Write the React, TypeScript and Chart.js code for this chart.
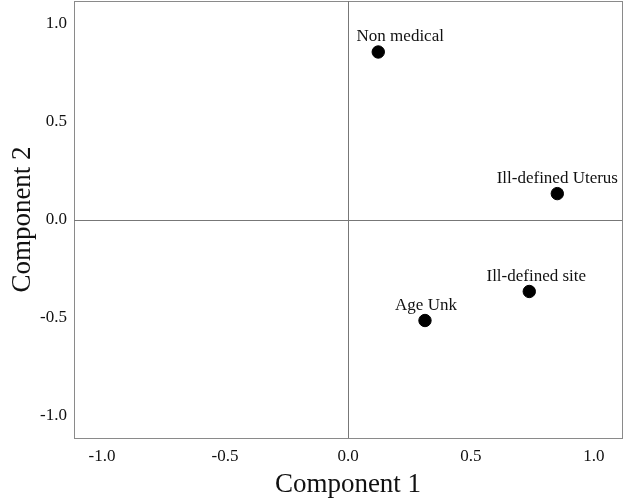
import React, { useEffect, useRef } from "react";
import { Chart, registerables } from "chart.js";

Chart.register(...registerables);

const LABELS = ["Non medical", "Ill-defined Uterus", "Ill-defined site", "Age Unk"];
const COMP1 = [0.123, 0.851, 0.737, 0.313];
const COMP2 = [0.854, 0.132, -0.367, -0.515];
const TICKS = [-1.0, -0.5, 0.0, 0.5, 1.0];
const LABEL_NUDGE = [22, 0, 7, 1];
const AXIS_MIN = -1.114;
const AXIS_MAX = 1.114;
const FONT = "'Liberation Serif', 'Times New Roman', serif";

const framePlugin = {
  id: "frame",
  beforeDatasetsDraw(chart: any) {
    const { ctx, chartArea, scales } = chart;
    const x0 = scales.x.getPixelForValue(0);
    const y0 = scales.y.getPixelForValue(0);
    ctx.save();
    ctx.strokeStyle = "#8a8a8a";
    ctx.lineWidth = 1;
    ctx.strokeRect(
      Math.round(chartArea.left) + 0.5,
      Math.round(chartArea.top) + 0.5,
      Math.round(chartArea.right - chartArea.left),
      Math.round(chartArea.bottom - chartArea.top)
    );
    ctx.strokeStyle = "#777";
    ctx.beginPath();
    ctx.moveTo(Math.round(x0) + 0.5, chartArea.top);
    ctx.lineTo(Math.round(x0) + 0.5, chartArea.bottom);
    ctx.moveTo(chartArea.left, Math.round(y0) + 0.5);
    ctx.lineTo(chartArea.right, Math.round(y0) + 0.5);
    ctx.stroke();
    ctx.restore();
  },
  afterDatasetsDraw(chart: any) {
    const { ctx } = chart;
    const meta = chart.getDatasetMeta(0);
    ctx.save();
    ctx.font = `17px ${FONT}`;
    ctx.fillStyle = "#111";
    ctx.textAlign = "center";
    ctx.textBaseline = "alphabetic";
    meta.data.forEach((pt: any, i: number) => {
      ctx.fillText(LABELS[i], pt.x + LABEL_NUDGE[i], pt.y - 10.5);
    });
    ctx.restore();
  },
};

export default function App() {
  const ref = useRef<HTMLCanvasElement>(null);
  useEffect(() => {
    if (!ref.current) return;
    const chart = new Chart(ref.current, {
      type: "scatter",
      data: {
        datasets: [
          {
            data: COMP1.map((x, i) => ({ x, y: COMP2[i] })),
            backgroundColor: "#000",
            borderColor: "#000",
            pointRadius: 6.2,
            pointHoverRadius: 6.2,
          },
        ],
      },
      options: {
        animation: false,
        responsive: false,
        events: [],
        layout: { autoPadding: false, padding: { left: 0, top: 1, right: 12, bottom: 0 } },
        plugins: { legend: { display: false }, tooltip: { enabled: false } },
        scales: {
          x: {
            type: "linear",
            min: AXIS_MIN,
            max: AXIS_MAX,
            grid: { display: false, drawTicks: false },
            border: { display: false },
            afterBuildTicks: (s: any) => {
              s.ticks = TICKS.map((v) => ({ value: v }));
            },
            afterFit: (s: any) => {
              s.height = 65;
              s.paddingLeft = 0;
              s.paddingRight = 0;
            },
            ticks: {
              padding: 8,
              color: "#111",
              font: { family: FONT, size: 17 },
              callback: (v: any) => Number(v).toFixed(1),
            },
            title: {
              display: true,
              text: "Component 1",
              color: "#111",
              font: { family: FONT, size: 27 },
              padding: { top: 0, bottom: 2 },
            },
          },
          y: {
            type: "linear",
            min: AXIS_MIN,
            max: AXIS_MAX,
            grid: { display: false, drawTicks: false },
            border: { display: false },
            afterBuildTicks: (s: any) => {
              s.ticks = TICKS.map((v) => ({ value: v }));
            },
            afterFit: (s: any) => {
              s.width = 74;
              s.paddingTop = 0;
              s.paddingBottom = 0;
            },
            ticks: {
              padding: 7,
              color: "#111",
              font: { family: FONT, size: 17 },
              callback: (v: any) => Number(v).toFixed(1),
            },
            title: {
              display: true,
              text: "Component 2",
              color: "#111",
              font: { family: FONT, size: 27 },
              padding: { top: 7, bottom: 0 },
            },
          },
        },
      },
      plugins: [framePlugin],
    });
    return () => chart.destroy();
  }, []);
  return (
    <div style={{ position: "fixed", left: 0, top: 0, width: 634, height: 503, background: "#fff" }}>
      <canvas ref={ref} width={634} height={503} />
    </div>
  );
}
